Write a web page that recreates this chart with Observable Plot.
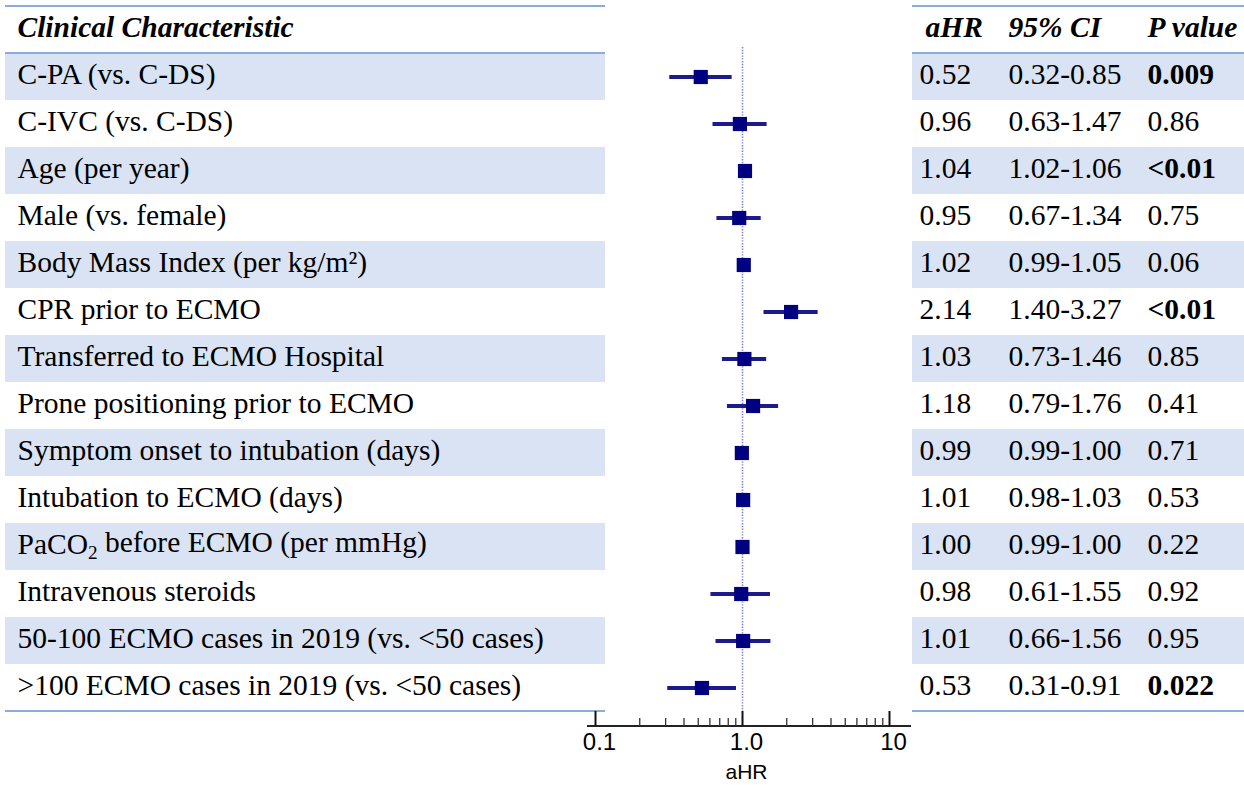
<!DOCTYPE html>
<html>
<head>
<meta charset="utf-8">
<script src="https://cdn.jsdelivr.net/npm/d3@7"></script>
<script src="https://cdn.jsdelivr.net/npm/@observablehq/plot@0.6"></script>
<style>
  html, body { margin: 0; padding: 0; background: #fff; }
  #chart svg { display: block; }
</style>
</head>
<body>
<div id="chart"></div>
<script>
const labels = [
  "C-PA (vs. C-DS)",
  "C-IVC (vs. C-DS)",
  "Age (per year)",
  "Male (vs. female)",
  "Body Mass Index (per kg/m²)",
  "CPR prior to ECMO",
  "Transferred to ECMO Hospital",
  "Prone positioning prior to ECMO",
  "Symptom onset to intubation (days)",
  "Intubation to ECMO (days)",
  "PaCO₂ before ECMO (per mmHg)",
  "Intravenous steroids",
  "50-100 ECMO cases in 2019 (vs. <50 cases)",
  ">100 ECMO cases in 2019 (vs. <50 cases)"
];
const ahr = [0.52, 0.96, 1.04, 0.95, 1.02, 2.14, 1.03, 1.18, 0.99, 1.01, 1.00, 0.98, 1.01, 0.53];
const ciLow = [0.32, 0.63, 1.02, 0.67, 0.99, 1.40, 0.73, 0.79, 0.99, 0.98, 0.99, 0.61, 0.66, 0.31];
const ciHigh = [0.85, 1.47, 1.06, 1.34, 1.05, 3.27, 1.46, 1.76, 1.00, 1.03, 1.00, 1.55, 1.56, 0.91];
const ahrText = ["0.52","0.96","1.04","0.95","1.02","2.14","1.03","1.18","0.99","1.01","1.00","0.98","1.01","0.53"];
const ciText = ["0.32-0.85","0.63-1.47","1.02-1.06","0.67-1.34","0.99-1.05","1.40-3.27","0.73-1.46","0.79-1.76","0.99-1.00","0.98-1.03","0.99-1.00","0.61-1.55","0.66-1.56","0.31-0.91"];
const pText = ["0.009","0.86","<0.01","0.75","0.06","<0.01","0.85","0.41","0.71","0.53","0.22","0.92","0.95","0.022"];
const pBold = [true,false,true,false,false,true,false,false,false,false,false,false,false,true];
const headers = ["Clinical Characteristic", "aHR", "95% CI", "P value"];
const majorTicks = [0.1, 1, 10];
const majorTickLabels = ["0.1", "1.0", "10"];
const minorTicks = [0.2,0.3,0.4,0.5,0.6,0.7,0.8,0.9,2,3,4,5,6,7,8,9];
const axisLabel = "aHR";

const rows = labels.map((label, i) => ({
  label, ahr: ahr[i], lo: ciLow[i], hi: ciHigh[i],
  ahrT: ahrText[i], ciT: ciText[i], pT: pText[i], bold: pBold[i], i
}));

const W = 1244, H = 785;
const mTop = 47, mBottom = 59, mLeft = 587, mRight = 333;
const frameH = H - mTop - mBottom;
const serif = "'Liberation Serif', 'Times New Roman', serif";
const sans = "'Liberation Sans', Arial, sans-serif";
const FS = 29.5;
const lineColor = "#8faadc";
const shade = "#dae3f3";
const tableSpans = [[5, 605], [912, 1244]];

function tableBackground(index, scales, values, dimensions) {
  const g = d3.create("svg:g");
  const y = scales.y;
  const bw = y.bandwidth ? y.bandwidth() : (y(labels[1]) - y(labels[0]));
  rows.forEach((r) => {
    if (r.i % 2 === 0) {
      for (const [a, b] of tableSpans) {
        g.append("rect").attr("x", a).attr("y", y(r.label)).attr("width", b - a)
          .attr("height", bw).attr("fill", shade);
      }
    }
  });
  const ys = [y("header"), y(labels[0]), y(labels[labels.length - 1]) + bw];
  for (const yy of ys) {
    for (const [a, b] of tableSpans) {
      g.append("line").attr("x1", a).attr("x2", b).attr("y1", yy).attr("y2", yy)
        .attr("stroke", lineColor).attr("stroke-width", 2);
    }
  }
  return g.node();
}

function axisLine(index, scales, values, dimensions) {
  const {width, height, marginLeft, marginRight, marginBottom} = dimensions;
  const yy = height - marginBottom;
  return d3.create("svg:line")
    .attr("x1", marginLeft).attr("x2", width - marginRight)
    .attr("y1", yy).attr("y2", yy)
    .attr("stroke", "#222").attr("stroke-width", 2).node();
}

const colText = (key, dxPx, extra = {}) => Plot.text(rows, {
  y: "label", text: key, frameAnchor: "left", dx: dxPx - mLeft, dy: -2,
  textAnchor: "start", fontFamily: serif, fontSize: FS, fill: "#000", ...extra
});

const headerText = (idx, dxPx) => Plot.text([headers[idx]], {
  y: () => "header", text: (d) => d, frameAnchor: "left", dx: dxPx - mLeft, dy: -2,
  textAnchor: "start", fontFamily: serif, fontSize: FS, fontWeight: "bold",
  fontStyle: "italic", fill: "#000"
});

const chart = Plot.plot({
  width: W, height: H,
  marginTop: mTop, marginBottom: mBottom, marginLeft: mLeft, marginRight: mRight,
  style: {background: "#fff", overflow: "visible"},
  x: {type: "log", domain: [0.1, 10], range: [595, 889], axis: null},
  y: {type: "band", domain: ["header", ...labels], range: [2, 714], padding: 0, axis: null},
  marks: [
    tableBackground,
    // reference line
    Plot.ruleX([1], {stroke: "#8383d6", strokeWidth: 1.6, strokeDasharray: "1.4,1.4", insetBottom: 15}),
    // axis
    axisLine,
    Plot.ruleX(majorTicks, {x: (d) => d, stroke: "#111", strokeWidth: 2, insetTop: frameH - 15}),
    Plot.ruleX(minorTicks, {x: (d) => d, stroke: "#333", strokeWidth: 1.3, insetTop: frameH - 8}),
    Plot.text(majorTicks, {x: (d) => d, text: (d, i) => majorTickLabels[i], frameAnchor: "bottom",
      dy: 16, dx: 4, fontFamily: sans, fontSize: 24, fill: "#000", lineAnchor: "middle"}),
    Plot.text([axisLabel], {x: () => 1, text: (d) => d, frameAnchor: "bottom",
      dy: 46, dx: 4, fontFamily: sans, fontSize: 21, fill: "#000", lineAnchor: "middle"}),
    // CIs and estimates
    Plot.ruleY(rows, {y: "label", x1: "lo", x2: "hi", stroke: "#1b1b8c", strokeWidth: 4}),
    Plot.dot(rows, {x: "ahr", y: "label", symbol: "square", r: 8, fill: "#000080", stroke: "none"}),
    // headers
    headerText(0, 17),
    headerText(1, 925),
    headerText(2, 1008),
    headerText(3, 1147),
    // table columns
    colText("label", 17),
    colText("ahrT", 919),
    colText("ciT", 1008),
    colText("pT", 1147, {filter: (d) => !d.bold}),
    colText("pT", 1147, {filter: (d) => d.bold, fontWeight: "bold"})
  ]
});

// real sub/superscripts
d3.select(chart).selectAll("text").each(function () {
  const t = this.textContent;
  if (t.includes("₂")) {
    const [a, b] = t.split("₂");
    const sel = d3.select(this);
    sel.text(null);
    sel.append("tspan").text(a);
    sel.append("tspan").attr("dy", "0.22em").attr("font-size", "0.65em").text("2");
    sel.append("tspan").attr("dy", "-0.22em").text(b);
  }
});

document.getElementById("chart").appendChild(chart);
</script>
</body>
</html>
